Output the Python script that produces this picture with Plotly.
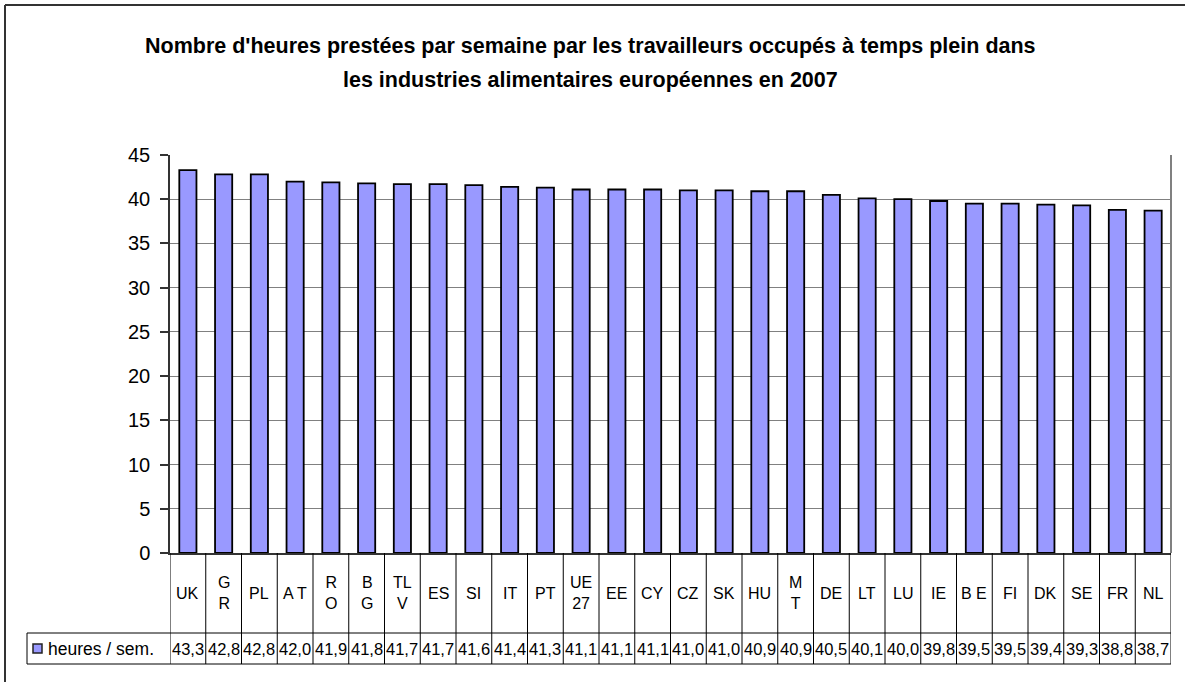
import plotly.graph_objects as go

categories = ["UK", "GR", "PL", "AT", "RO", "BG", "TLV", "ES", "SI", "IT", "PT", "UE27",
              "EE", "CY", "CZ", "SK", "HU", "MT", "DE", "LT", "LU", "IE", "BE", "FI",
              "DK", "SE", "FR", "NL"]
category_labels = ["UK", "G<br>R", "PL", "A T", "R<br>O", "B<br>G", "TL<br>V", "ES", "SI", "IT", "PT", "UE<br>27",
                   "EE", "CY", "CZ", "SK", "HU", "M<br>T", "DE", "LT", "LU", "IE", "B E", "FI",
                   "DK", "SE", "FR", "NL"]
heures = [43.3, 42.8, 42.8, 42.0, 41.9, 41.8, 41.7, 41.7, 41.6, 41.4, 41.3, 41.1,
          41.1, 41.1, 41.0, 41.0, 40.9, 40.9, 40.5, 40.1, 40.0, 39.8, 39.5, 39.5,
          39.4, 39.3, 38.8, 38.7]
series_name = "heures / sem."
title_lines = ["Nombre d'heures prestées par semaine par les travailleurs occupés à temps plein dans",
               "les industries alimentaires européennes en 2007"]
y_ticks = [0, 5, 10, 15, 20, 25, 30, 35, 40, 45]

W, H = 1185, 682
PX_L, PX_R = 170, 1171
PX_T, PX_B = 155, 553
ROW1_B = 633
ROW2_B = 664
LEG_L = 27

def px(x):
    return x / W

def py(y):
    return (H - y) / H

BAR = "#9999FF"
FONT = "Liberation Sans, Arial, sans-serif"

fig = go.Figure()
fig.add_trace(go.Bar(
    x=list(range(len(categories))), y=heures, name=series_name,
    width=0.48,
    marker=dict(color=BAR, line=dict(color="black", width=1.8)),
    showlegend=False,
))

n = len(categories)
shapes = []
shapes.append(dict(type="line", xref="paper", yref="paper", x0=px(5), x1=px(W + 5), y0=py(5), y1=py(5),
                   line=dict(color="#333333", width=2)))
shapes.append(dict(type="line", xref="paper", yref="paper", x0=px(5), x1=px(5), y0=py(5), y1=py(H + 5),
                   line=dict(color="#333333", width=2)))
shapes.append(dict(type="line", xref="paper", yref="paper", x0=px(PX_R), x1=px(PX_R), y0=py(PX_T), y1=py(PX_B),
                   line=dict(color="#808080", width=2)))
for i in range(n + 1):
    shapes.append(dict(type="line", xref="x", yref="paper", x0=i - 0.5, x1=i - 0.5, y0=py(PX_B), y1=py(ROW2_B),
                       line=dict(color="black", width=1)))
for yy in (ROW1_B, ROW2_B):
    shapes.append(dict(type="line", xref="paper", yref="paper", x0=px(LEG_L), x1=px(PX_R), y0=py(yy), y1=py(yy),
                       line=dict(color="black", width=1)))
shapes.append(dict(type="line", xref="paper", yref="paper", x0=px(LEG_L), x1=px(LEG_L), y0=py(ROW1_B), y1=py(ROW2_B),
                   line=dict(color="black", width=1)))
shapes.append(dict(type="rect", xref="paper", yref="paper", x0=px(33), x1=px(42), y0=py(644), y1=py(653),
                   fillcolor=BAR, line=dict(color="#222222", width=1.5)))

annotations = []
for i, lab in enumerate(category_labels):
    annotations.append(dict(x=i, y=py((PX_B + ROW1_B) / 2), xref="x", yref="paper", text=lab,
                            showarrow=False, font=dict(family=FONT, size=16, color="black"),
                            xanchor="center", yanchor="middle"))
for i, v in enumerate(heures):
    annotations.append(dict(x=i, y=py((ROW1_B + ROW2_B) / 2), xref="x", yref="paper",
                            text=f"{v:.1f}".replace(".", ","),
                            showarrow=False, font=dict(family=FONT, size=16.5, color="black"),
                            xanchor="center", yanchor="middle"))
annotations.append(dict(x=px(46), y=py((ROW1_B + ROW2_B) / 2), xref="paper", yref="paper", text=series_name,
                        showarrow=False, font=dict(family=FONT, size=17.5, color="black"),
                        xanchor="left", yanchor="middle"))
for j, (line, yy) in enumerate(zip(title_lines, (46, 80))):
    annotations.append(dict(x=px(590), y=py(yy), xref="paper", yref="paper", text=f"<b>{line}</b>",
                            showarrow=False, font=dict(family="Liberation Sans Narrow, Arial Narrow, sans-serif",
                                                       size=21.5, color="black"),
                            xanchor="center", yanchor="middle"))

fig.update_layout(
    width=W, height=H, autosize=False,
    margin=dict(l=0, r=0, t=0, b=0, pad=0),
    paper_bgcolor="white", plot_bgcolor="white",
    shapes=shapes, annotations=annotations,
    xaxis=dict(domain=[px(PX_L), px(PX_R)], range=[-0.5, n - 0.5], showticklabels=False,
               showgrid=False, zeroline=False, showline=True, linecolor="#333333", linewidth=1.5,
               ticks="", fixedrange=True, automargin=False),
    yaxis=dict(domain=[py(PX_B), py(PX_T)], range=[0, 45], tickvals=y_ticks,
               tickfont=dict(family=FONT, size=20, color="black"),
               showgrid=True, gridcolor="#808080", gridwidth=1,
               zeroline=False, showline=True, linecolor="#333333", linewidth=1.5,
               ticks="outside", ticklen=8, tickcolor="#333333", tickwidth=1.5,
               ticklabelstandoff=6, fixedrange=True, automargin=False),
)

fig.write_html("out.html", config={"displayModeBar": False},
               post_script="document.body.style.margin='0';document.body.style.overflow='hidden';")
